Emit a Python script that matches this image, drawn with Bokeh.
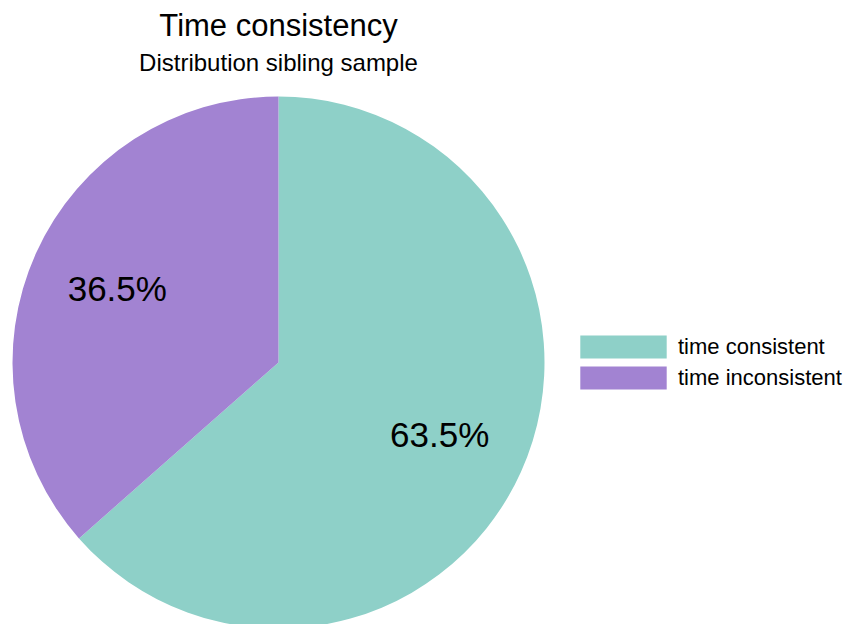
import math
from bokeh.plotting import figure
from bokeh.models import Range1d, ColumnDataSource, Legend, LegendItem
from bokeh.core.properties import value
from bokeh.embed import file_html
from bokeh.resources import INLINE

# ---- data ----
categories = ["time consistent", "time inconsistent"]
shares = [63.5, 36.5]
colors = ["#8ED0C8", "#A283D2"]
title_text = "Time consistency"
subtitle_text = "Distribution sibling sample"

FONT = "Liberation Sans"
W, H = 850, 624
cx, cy, r = 278, H - 362, 266

total = sum(shares)
starts, ends, lx, ly, labels = [], [], [], [], []
cum = 0.0
for s in shares:
    a0 = math.pi / 2 - 2 * math.pi * cum / total
    a1 = math.pi / 2 - 2 * math.pi * (cum + s) / total
    starts.append(a0)
    ends.append(a1)
    mid = (a0 + a1) / 2
    lx.append(cx + 0.665 * r * math.cos(mid))
    ly.append(cy + 0.665 * r * math.sin(mid) + 1)
    labels.append(f"{s:.1f}%")
    cum += s

src = ColumnDataSource(dict(cat=categories, start=starts, end=ends, color=colors,
                            lx=lx, ly=ly, lab=labels))

p = figure(width=W, height=H, output_backend="svg", toolbar_location=None,
           x_range=Range1d(0, W), y_range=Range1d(0, H),
           min_border=0, min_border_left=0, min_border_right=0,
           min_border_top=0, min_border_bottom=0)
p.axis.visible = False
p.grid.visible = False
p.outline_line_color = None
p.background_fill_color = "white"
p.border_fill_color = "white"

wedges = p.wedge(x=cx, y=cy, radius=r, start_angle="start", end_angle="end",
                 direction="clock", fill_color="color", line_color=None, source=src)

p.text(x="lx", y="ly", text="lab", source=src, text_align="center",
       text_baseline="middle", text_font=value(FONT), text_font_size="35px",
       text_color="black")

p.text(x=[cx], y=[H - 25], text=[title_text], text_align="center",
       text_baseline="alphabetic", text_font=value(FONT), text_font_size="31px",
       text_color="black")
p.text(x=[cx], y=[H - 62], text=[subtitle_text], text_align="center",
       text_baseline="alphabetic", text_font=value(FONT), text_font_size="24px",
       text_color="black")

items = [LegendItem(label=c, renderers=[wedges], index=i) for i, c in enumerate(categories)]
legend = Legend(items=items, location=(569, 232), orientation="vertical",
                glyph_width=108, glyph_height=29, spacing=2, padding=0, margin=0,
                label_standoff=1, label_text_font=FONT, label_text_font_size="22px",
                label_text_color="black", border_line_color=None,
                background_fill_alpha=0)
p.add_layout(legend, "center")

open("out.html", "w").write(file_html(p, INLINE))
